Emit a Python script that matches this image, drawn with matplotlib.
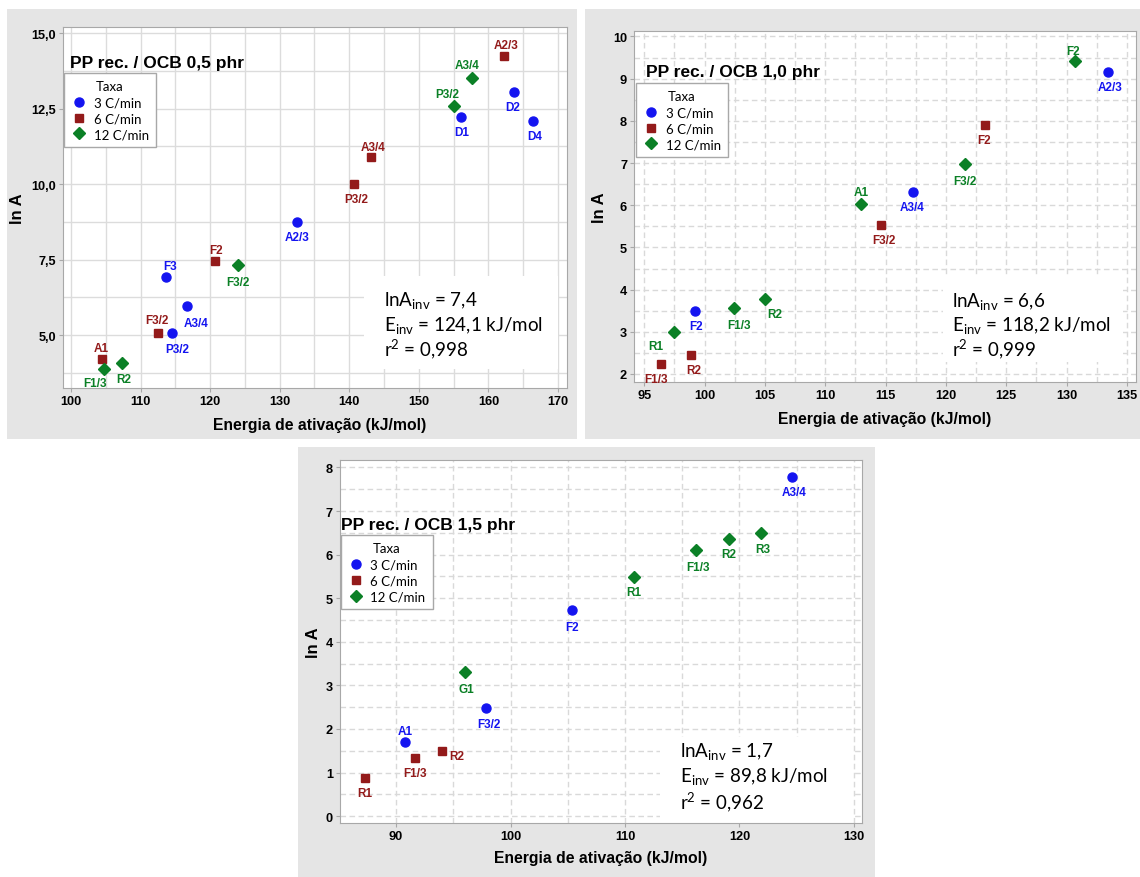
import matplotlib.pyplot as plt
from matplotlib.patches import Rectangle
from matplotlib.ticker import MultipleLocator, FuncFormatter

plt.rcParams['font.family'] = ['Liberation Sans', 'DejaVu Sans']
plt.rcParams['mathtext.fontset'] = 'custom'
plt.rcParams['mathtext.rm'] = 'Lato'
plt.rcParams['mathtext.it'] = 'Lato:italic'
plt.rcParams['mathtext.bf'] = 'Lato:bold'

rates = ['3 C/min', '6 C/min', '12 C/min']
colors = ['#1414f0', '#931a1a', '#0b8026']
markers = ['o', 's', 'D']
msizes = [6.5, 6.0, 5.8]

# ---- PP rec. / OCB 0,5 phr ----
e05_3 = [113.6, 116.7, 114.5, 132.5, 156.1, 163.7, 166.4]
lna05_3 = [6.91, 5.97, 5.06, 8.76, 12.21, 13.04, 12.09]
lab05_3 = ['F3', 'A3/4', 'P3/2', 'A2/3', 'D1', 'D2', 'D4']
e05_6 = [104.4, 112.5, 120.7, 140.7, 143.1, 162.2]
lna05_6 = [4.21, 5.06, 7.45, 10.0, 10.89, 14.23]
lab05_6 = ['A1', 'F3/2', 'F2', 'P3/2', 'A3/4', 'A2/3']
e05_12 = [104.8, 107.3, 124.0, 155.1, 157.6]
lna05_12 = [3.87, 4.08, 7.32, 12.58, 13.52]
lab05_12 = ['F1/3', 'R2', 'F3/2', 'P3/2', 'A3/4']

# ---- PP rec. / OCB 1,0 phr ----
e10_3 = [99.2, 117.3, 133.4]
lna10_3 = [3.49, 6.32, 9.17]
lab10_3 = ['F2', 'A3/4', 'A2/3']
e10_6 = [96.4, 98.9, 114.6, 123.2]
lna10_6 = [2.24, 2.44, 5.54, 7.91]
lab10_6 = ['F1/3', 'R2', 'F3/2', 'F2']
e10_12 = [97.5, 102.4, 105.0, 113.0, 121.6, 130.7]
lna10_12 = [3.0, 3.56, 3.78, 6.02, 6.97, 9.41]
lab10_12 = ['R1', 'F1/3', 'R2', 'A1', 'F3/2', 'F2']

# ---- PP rec. / OCB 1,5 phr ----
e15_3 = [90.8, 97.9, 105.4, 124.6]
lna15_3 = [1.69, 2.49, 4.73, 7.77]
lab15_3 = ['A1', 'F3/2', 'F2', 'A3/4']
e15_6 = [87.3, 91.7, 94.0]
lna15_6 = [0.87, 1.33, 1.49]
lab15_6 = ['R1', 'F1/3', 'R2']
e15_12 = [96.0, 110.8, 116.2, 119.1, 121.9]
lna15_12 = [3.31, 5.48, 6.10, 6.36, 6.49]
lab15_12 = ['G1', 'R1', 'F1/3', 'R2', 'R3']

stats05 = ['7,4', '124,1', '0,998']
stats10 = ['6,6', '118,2', '0,999']
stats15 = ['1,7', '89,8', '0,962']

# label offsets in pixels (dx, dy), U = above, D = below
U, D = 11, -15
off05 = [[(4, U), (9, -17), (5, -16), (0, D), (0, D), (-1, D), (2, D)],
         [(0, U), (-1, 13), (1, U), (2, D), (2, 10), (2, U)],
         [(-9, -14), (2, -16), (0, -17), (-7, 12), (-5, 13)]]
off10 = [[(1, D), (-1, D), (2, D)],
         [(-5, D), (2, D), (3, D), (0, D)],
         [(-19, -14), (5, -17), (10, D), (0, 12), (0, -17), (-2, 10)]]
off15 = [[(0, U), (2, -16), (0, -17), (2, D)],
         [(0, D), (0, D), (15, -5)],
         [(2, -17), (0, D), (2, -17), (0, D), (2, -16)]]

fig = plt.figure(figsize=(11.4, 8.78), dpi=100)
W, H = 1140, 878


def px_rect(x0, y0, x1, y1):
    return [x0 / W, 1 - y1 / H, (x1 - x0) / W, (y1 - y0) / H]


for x0, y0, x1, y1 in [(7, 10, 577, 440), (585, 10, 1140, 440), (298, 448, 875, 878)]:
    r = px_rect(x0, y0, x1, y1)
    fig.patches.append(Rectangle((r[0], r[1]), r[2], r[3], transform=fig.transFigure,
                                 fc='#e5e5e5', ec='none', zorder=-10))


def comma(fmt):
    return FuncFormatter(lambda v, p: (fmt % v).replace('.', ','))


def panel(rect, series, offsets, title, stats, xlim, ylim, xmaj, xmin, ymaj, ymin,
          yfmt, dashed, title_xy, leg_xy, box, txt_x, txt_y, ylab_x, xlab_xy):
    ax = fig.add_axes(px_rect(*rect))
    ax.set_xlim(*xlim)
    ax.set_ylim(*ylim)
    ax.xaxis.set_major_locator(MultipleLocator(xmaj))
    ax.xaxis.set_minor_locator(MultipleLocator(xmin))
    ax.yaxis.set_major_locator(MultipleLocator(ymaj))
    ax.yaxis.set_minor_locator(MultipleLocator(ymin))
    ax.yaxis.set_major_formatter(comma(yfmt))
    ax.xaxis.set_major_formatter(comma('%.0f'))
    if dashed:
        ax.grid(True, which='both', color='#d9d9d9', lw=1, ls=(0, (4, 2.5)))
    else:
        ax.grid(True, which='both', color='#dcdcdc', lw=1)
    ax.set_axisbelow(True)
    for s in ax.spines.values():
        s.set_color('#a8a8a8')
    ax.tick_params(which='major', length=3, color='#a8a8a8', labelsize=9.2, pad=2)
    ax.tick_params(which='minor', length=0)
    for t in ax.get_xticklabels() + ax.get_yticklabels():
        t.set_fontweight('bold')

    ax.set_xlabel('Energia de ativação (kJ/mol)', fontsize=11.3, fontweight='bold', va='center')
    ax.set_ylabel('ln A', fontsize=12, fontweight='bold', va='center')
    ax.xaxis.set_label_coords(*xlab_xy)
    ax.yaxis.set_label_coords(ylab_x, 0.5)

    for (xs, ys, labs), offs, c, m, ms, name in zip(series, offsets, colors, markers, msizes, rates):
        ax.plot(xs, ys, ls='none', marker=m, ms=ms, color=c, label=name, zorder=3)
        for x, y, lab, (dx, dy) in zip(xs, ys, labs, offs):
            ax.annotate(lab, (x, y), xytext=(dx * 0.72, dy * 0.72), textcoords='offset points',
                        ha='center', va='center', color=c, fontsize=8.5, fontweight='bold')

    ax.text(title_xy[0], title_xy[1], title, transform=ax.transAxes, fontsize=12.5,
            fontweight='bold', ha='left', va='center')

    leg = ax.legend(title='Taxa', loc='upper left', bbox_to_anchor=leg_xy, borderaxespad=0,
                    fancybox=False, frameon=True, framealpha=1, edgecolor='#a8a8a8',
                    prop={'family': 'Lato', 'size': 9.5}, title_fontproperties={'family': 'Lato', 'size': 9.5},
                    handletextpad=0.5, handlelength=1.2, borderpad=0.55, labelspacing=0.3)
    leg.get_frame().set_linewidth(1)

    ax.add_patch(Rectangle((box[0], box[1]), box[2] - box[0], box[3] - box[1],
                           transform=ax.transAxes, fc='white', ec='none', zorder=2.5))
    lines = [r'lnA$_{\rm inv}$ = ' + stats[0],
             r'E$_{\rm inv}$ = ' + stats[1] + ' kJ/mol',
             r'r$^{\rm 2}$ = ' + stats[2]]
    for line, ty in zip(lines, txt_y):
        ax.text(txt_x, ty, line, transform=ax.transAxes, fontsize=13.5, family='Lato',
                ha='left', va='center', zorder=4)
    return ax


panel((63, 27.7, 567, 389),
      [(e05_3, lna05_3, lab05_3), (e05_6, lna05_6, lab05_6), (e05_12, lna05_12, lab05_12)],
      off05, 'PP rec. / OCB 0,5 phr', stats05, (98.85, 171.3), (3.25, 15.21),
      10, 5, 2.5, 1.25, '%.1f', False, (0.014, 0.902), (0.002, 0.872),
      (0.597, 0.053, 0.982, 0.31), 0.637, (0.2436, 0.1744, 0.1107), -0.091, (0.51, -0.102))

panel((634, 32, 1136, 383),
      [(e10_3, lna10_3, lab10_3), (e10_6, lna10_6, lab10_6), (e10_12, lna10_12, lab10_12)],
      off10, 'PP rec. / OCB 1,0 phr', stats10, (94.15, 135.75), (1.81, 10.13),
      5, 2.5, 1, 0.5, '%.0f', True, (0.024, 0.886), (0.004, 0.852),
      (0.616, 0.057, 0.974, 0.299), 0.633, (0.2336, 0.1624, 0.0969), -0.068, (0.5, -0.105))

panel((339.7, 461, 862, 823.7),
      [(e15_3, lna15_3, lab15_3), (e15_6, lna15_6, lab15_6), (e15_12, lna15_12, lab15_12)],
      off15, 'PP rec. / OCB 1,5 phr', stats15, (85.08, 130.7), (-0.15, 8.17),
      10, 5, 1, 0.5, '%.0f', True, (0.002, 0.822), (0.002, 0.793),
      (0.613, 0.0, 0.981, 0.236), 0.6515, (0.2004, 0.1315, 0.0598), -0.051, (0.5, -0.097))

fig.savefig('out.png', dpi=100)
